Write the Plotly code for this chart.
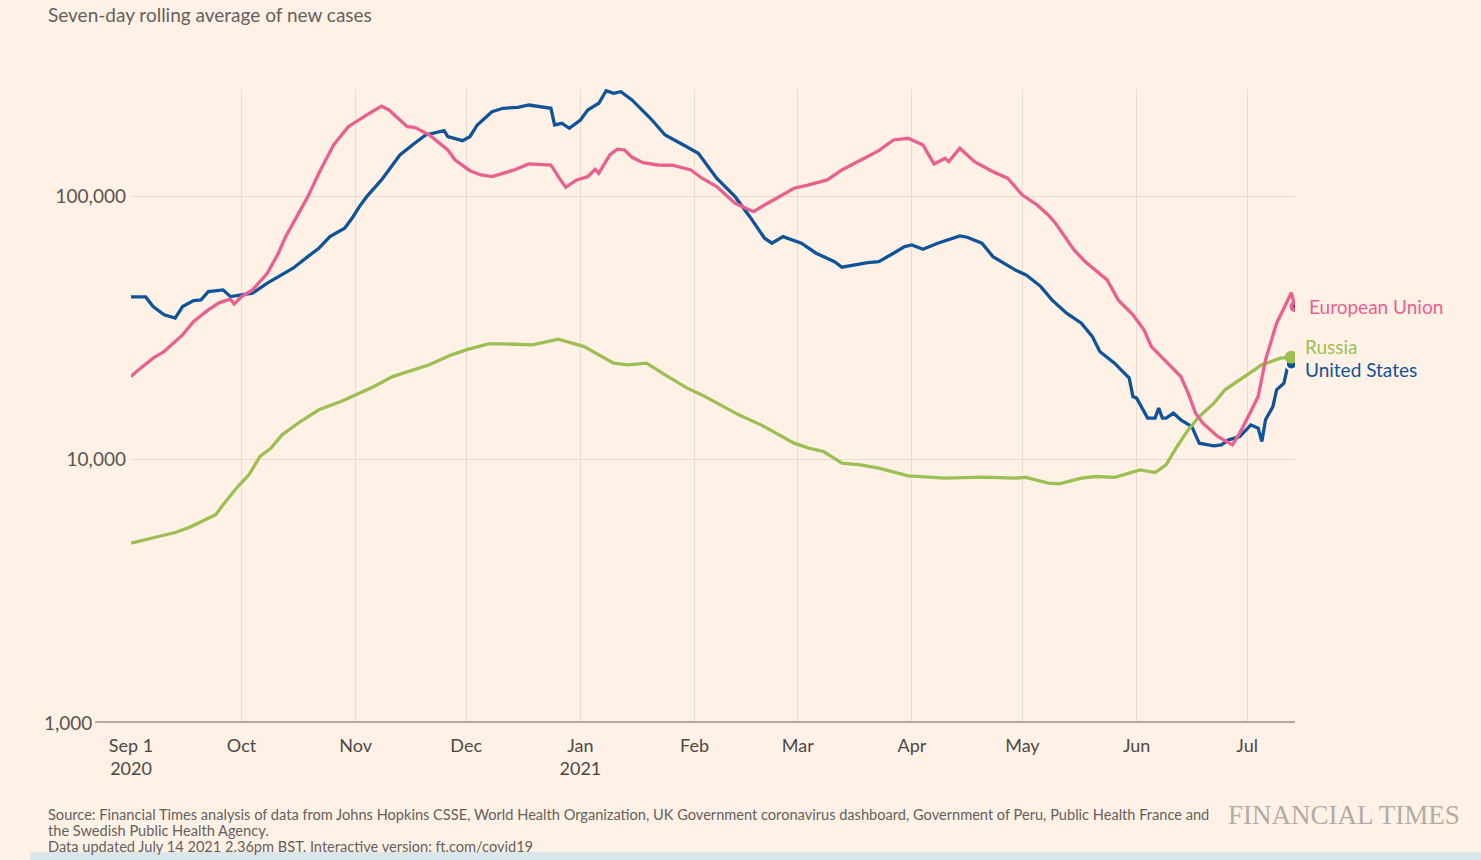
import plotly.graph_objects as go

# ---------------- data ----------------
us_dates = ["2020-09-01","2020-09-05","2020-09-07","2020-09-10","2020-09-13","2020-09-15","2020-09-18","2020-09-20","2020-09-22","2020-09-26",
            "2020-09-28","2020-10-04","2020-10-08","2020-10-12","2020-10-15","2020-10-19","2020-10-22","2020-10-25","2020-10-29","2020-10-31",
            "2020-11-02","2020-11-04","2020-11-08","2020-11-10","2020-11-13","2020-11-17","2020-11-20","2020-11-25","2020-11-26","2020-11-30",
            "2020-12-02","2020-12-04","2020-12-08","2020-12-11","2020-12-15","2020-12-18","2020-12-24","2020-12-25","2020-12-27","2020-12-29",
            "2021-01-01","2021-01-03","2021-01-06","2021-01-08","2021-01-10","2021-01-12","2021-01-15","2021-01-20","2021-01-24","2021-01-29",
            "2021-02-02","2021-02-07","2021-02-12","2021-02-16","2021-02-20","2021-02-22","2021-02-25","2021-03-02","2021-03-06","2021-03-11",
            "2021-03-13","2021-03-20","2021-03-23","2021-03-27","2021-03-30","2021-04-01","2021-04-04","2021-04-08","2021-04-11","2021-04-14",
            "2021-04-16","2021-04-20","2021-04-23","2021-04-29","2021-05-02","2021-05-06","2021-05-09","2021-05-13","2021-05-17","2021-05-20",
            "2021-05-22","2021-05-26","2021-05-30","2021-05-31","2021-06-01","2021-06-04","2021-06-06","2021-06-07","2021-06-08","2021-06-09",
            "2021-06-11","2021-06-13","2021-06-16","2021-06-18","2021-06-22","2021-06-24","2021-06-26","2021-06-29","2021-07-02","2021-07-04",
            "2021-07-05","2021-07-06","2021-07-08","2021-07-09","2021-07-11","2021-07-12","2021-07-13"]
us_cases = [41400,41400,38040,35380,34370,38040,40090,40340,43380,44030,
            41520,42770,46700,50210,53240,58930,63430,70230,75560,82470,
            91310,99650,115350,125900,143600,159100,171000,177600,168500,162700,
            168500,186700,209700,216100,218000,222400,216100,186700,189500,181400,
            195000,212900,225800,252100,246400,249900,232500,198000,171000,156700,
            145700,117100,99650,83630,69240,66270,70230,66270,60720,56400,
            53700,55910,56400,60720,64330,65280,62880,66270,68640,70640,
            69850,66270,58930,52460,50210,45330,40340,35910,32890,29250,
            25660,23170,20320,17300,17060,14320,14320,15630,14320,14320,
            14960,14110,13300,11500,11230,11330,11840,12190,13500,13120,
            11660,14110,15850,18350,19450,22490,23000]

eu_dates = ["2020-09-01","2020-09-03","2020-09-07","2020-09-10","2020-09-13","2020-09-15","2020-09-18","2020-09-22","2020-09-25","2020-09-28",
            "2020-09-29","2020-10-01","2020-10-04","2020-10-06","2020-10-08","2020-10-11","2020-10-13","2020-10-16","2020-10-19","2020-10-22",
            "2020-10-26","2020-10-30","2020-11-01","2020-11-04","2020-11-08","2020-11-10","2020-11-13","2020-11-15","2020-11-17","2020-11-21",
            "2020-11-26","2020-11-28","2020-12-02","2020-12-05","2020-12-08","2020-12-11","2020-12-14","2020-12-18","2020-12-24","2020-12-26",
            "2020-12-28","2020-12-31","2021-01-03","2021-01-05","2021-01-06","2021-01-09","2021-01-11","2021-01-13","2021-01-15","2021-01-18",
            "2021-01-22","2021-01-26","2021-01-31","2021-02-03","2021-02-07","2021-02-12","2021-02-17","2021-02-20","2021-02-24","2021-02-28",
            "2021-03-04","2021-03-09","2021-03-13","2021-03-18","2021-03-23","2021-03-27","2021-03-31","2021-04-04","2021-04-07","2021-04-10",
            "2021-04-11","2021-04-14","2021-04-18","2021-04-23","2021-04-27","2021-05-01","2021-05-05","2021-05-08","2021-05-10","2021-05-15",
            "2021-05-18","2021-05-24","2021-05-27","2021-05-31","2021-06-03","2021-06-05","2021-06-09","2021-06-13","2021-06-15","2021-06-17",
            "2021-06-19","2021-06-23","2021-06-27","2021-06-29","2021-07-02","2021-07-04","2021-07-06","2021-07-09","2021-07-11","2021-07-13",
            "2021-07-14"]
eu_cases = [20610,21850,24210,25660,28000,29690,33370,36960,39390,40590,
            38950,41520,44030,47340,50950,60720,70230,83630,99650,122360,
            156700,183900,192100,203800,220400,212900,195000,183900,183000,171000,
            150000,137400,125100,120500,118700,122360,125900,132700,131500,118700,
            108200,115350,118700,126600,122360,143600,151000,150000,140700,134200,
            131500,131200,125900,117100,108800,94060,87390,92660,99650,107300,
            110400,115350,125900,137400,149100,163700,166200,156700,132700,139400,
            135400,152300,135400,124000,117100,101100,92660,84900,78940,62500,
            56400,48060,40340,35380,31020,26810,23500,20610,17820,14960,
            13700,12190,11330,12560,15170,17300,23860,32890,37510,43000,
            38040]

ru_dates = ["2020-09-01","2020-09-05","2020-09-08","2020-09-13","2020-09-17","2020-09-21","2020-09-24","2020-09-26","2020-09-30","2020-10-03",
            "2020-10-06","2020-10-09","2020-10-12","2020-10-17","2020-10-22","2020-10-28","2020-10-31","2020-11-06","2020-11-11","2020-11-17",
            "2020-11-21","2020-11-27","2020-12-01","2020-12-07","2020-12-11","2020-12-19","2020-12-26","2021-01-02","2021-01-06","2021-01-10",
            "2021-01-14","2021-01-19","2021-01-24","2021-01-30","2021-02-03","2021-02-08","2021-02-13","2021-02-19","2021-02-24","2021-02-28",
            "2021-03-04","2021-03-08","2021-03-13","2021-03-18","2021-03-23","2021-03-28","2021-03-31","2021-04-10","2021-04-20","2021-04-29",
            "2021-05-02","2021-05-08","2021-05-11","2021-05-17","2021-05-21","2021-05-26","2021-06-02","2021-06-06","2021-06-09","2021-06-12",
            "2021-06-15","2021-06-18","2021-06-22","2021-06-25","2021-07-01","2021-07-05","2021-07-10","2021-07-13"]
ru_cases = [4793,4934,5051,5259,5513,5841,6141,6703,7866,8715,
            10230,11010,12370,13900,15400,16560,17300,18880,20610,21850,
            22840,24930,26040,27450,27450,27210,28600,26810,24930,23170,
            22840,23170,20920,18620,17550,16090,14740,13500,12370,11500,
            11010,10690,9656,9513,9243,8893,8640,8470,8544,8470,
            8520,8103,8055,8470,8587,8520,9106,8893,9513,11170,
            12920,14520,16330,18350,20920,22840,24210,24420]

series_names = ["United States", "Russia", "European Union"]

x_tick_dates = ["2020-09-01","2020-10-01","2020-11-01","2020-12-01","2021-01-01","2021-02-01",
                "2021-03-01","2021-04-01","2021-05-01","2021-06-01","2021-07-01"]
x_tick_labels = ["Sep 1<br>2020","Oct","Nov","Dec","Jan<br>2021","Feb","Mar","Apr","May","Jun","Jul"]
y_tick_values = [10000, 100000]
y_tick_labels = ["10,000", "100,000"]

# ---------------- styling ----------------
BG = "#fff1e5"
GRID = "#e9dccf"
TXT = "#66605c"
FONT = "Lato"
C_US = "#0f5499"
C_RU = "#9bbf52"
C_EU = "#e9608f"
LW = 3.3

fig = go.Figure()
fig.add_trace(go.Scatter(x=us_dates, y=us_cases, mode="lines", name=series_names[0],
                         line=dict(color=C_US, width=LW), hoverinfo="x+y"))
fig.add_trace(go.Scatter(x=ru_dates, y=ru_cases, mode="lines", name=series_names[1],
                         line=dict(color=C_RU, width=LW), hoverinfo="x+y"))
fig.add_trace(go.Scatter(x=eu_dates, y=eu_cases, mode="lines", name=series_names[2],
                         line=dict(color=C_EU, width=LW), hoverinfo="x+y"))
# end markers
fig.add_trace(go.Scatter(x=[us_dates[-1]], y=[us_cases[-1]], mode="markers",
                         marker=dict(color=C_US, size=11, line=dict(color="white", width=2)), hoverinfo="skip"))
fig.add_trace(go.Scatter(x=[ru_dates[-1]], y=[ru_cases[-1]], mode="markers",
                         marker=dict(color=C_RU, size=13), hoverinfo="skip"))
fig.add_trace(go.Scatter(x=[eu_dates[-1]], y=[eu_cases[-1]], mode="markers",
                         marker=dict(color=C_EU, size=11), hoverinfo="skip"))
fig.add_trace(go.Scatter(x=[eu_dates[-1]], y=[eu_cases[-1]], mode="markers",
                         marker=dict(color="#5a2a3a", size=3), hoverinfo="skip"))

L, R, T, B = 131, 186, 89, 138
W, H = 1481, 860
pw, ph = W - L - R, H - T - B

def px_x(p):
    return (p - L) / pw

def px_y(p):
    return (H - B - p) / ph

fig.update_layout(
    width=W, height=H, autosize=False,
    margin=dict(l=L, r=R, t=T, b=B, pad=0),
    paper_bgcolor=BG, plot_bgcolor=BG,
    showlegend=False,
    font=dict(family=FONT, color=TXT),
    xaxis=dict(type="date", range=["2020-09-01", "2021-07-14"],
               tickvals=x_tick_dates, ticktext=x_tick_labels,
               showgrid=True, gridcolor=GRID, gridwidth=1,
               zeroline=False, showline=False, ticks="",
               tickfont=dict(size=18, color="#4d4845", family=FONT),
               ticklabelstandoff=11, fixedrange=True),
    yaxis=dict(type="log", range=[3, 5.408],
               tickvals=y_tick_values, ticktext=y_tick_labels,
               showgrid=True, gridcolor=GRID, gridwidth=1,
               zeroline=False, showline=False, ticks="",
               tickfont=dict(size=19, color="#5b5552", family=FONT),
               ticklabelstandoff=4, fixedrange=True),
)

shapes = [
    # baseline (1,000) extending left under its label
    dict(type="line", xref="paper", yref="paper", x0=px_x(95), x1=1, y0=0, y1=0,
         line=dict(color="#66605c", width=1)),
    # light band at the very bottom of the capture
    dict(type="rect", xref="paper", yref="paper", x0=px_x(30), x1=px_x(1490),
         y0=px_y(852), y1=px_y(870), fillcolor="#dbe6ea", line=dict(width=0), layer="below"),
]
fig.update_layout(shapes=shapes)

ann = []
ann.append(dict(text="1,000", xref="paper", yref="paper", x=px_x(94), y=0,
                xanchor="right", yanchor="middle", showarrow=False,
                font=dict(size=19, color="#5b5552", family=FONT)))
ann.append(dict(text="Seven-day rolling average of new cases", xref="paper", yref="paper",
                x=px_x(46), y=px_y(14), xanchor="left", yanchor="middle", showarrow=False,
                font=dict(size=19, color=TXT, family=FONT)))
# series labels
ann.append(dict(text="European Union", xref="paper", yref="y", x=px_x(1307), y=4.579,
                xanchor="left", yanchor="middle", showarrow=False,
                font=dict(size=19, color=C_EU, family=FONT)))
ann.append(dict(text="Russia", xref="paper", yref="y", x=px_x(1303), y=4.427,
                xanchor="left", yanchor="middle", showarrow=False,
                font=dict(size=19, color=C_RU, family=FONT)))
ann.append(dict(text="United States", xref="paper", yref="y", x=px_x(1303), y=4.340,
                xanchor="left", yanchor="middle", showarrow=False,
                font=dict(size=19, color=C_US, family=FONT)))
# source lines
src = ["Source: Financial Times analysis of data from Johns Hopkins CSSE, World Health Organization, UK Government coronavirus dashboard, Government of Peru, Public Health France and",
       "the Swedish Public Health Agency.",
       "Data updated July 14 2021 2.36pm BST. Interactive version: ft.com/covid19"]
for line, yy in zip(src, [814, 830, 846]):
    ann.append(dict(text=line, xref="paper", yref="paper", x=px_x(46), y=px_y(yy),
                    xanchor="left", yanchor="middle", showarrow=False,
                    font=dict(size=14.6, color=TXT, family=FONT)))
ann.append(dict(text="FINANCIAL TIMES", xref="paper", yref="paper", x=px_x(1344), y=px_y(815),
                xanchor="center", yanchor="middle", showarrow=False,
                font=dict(size=27, color="#b3aca6", family="Liberation Serif")))
fig.update_layout(annotations=ann)

fig.write_html("out.html", config={"displayModeBar": False},
               post_script="document.body.style.margin='0';document.body.style.overflow='hidden';")
